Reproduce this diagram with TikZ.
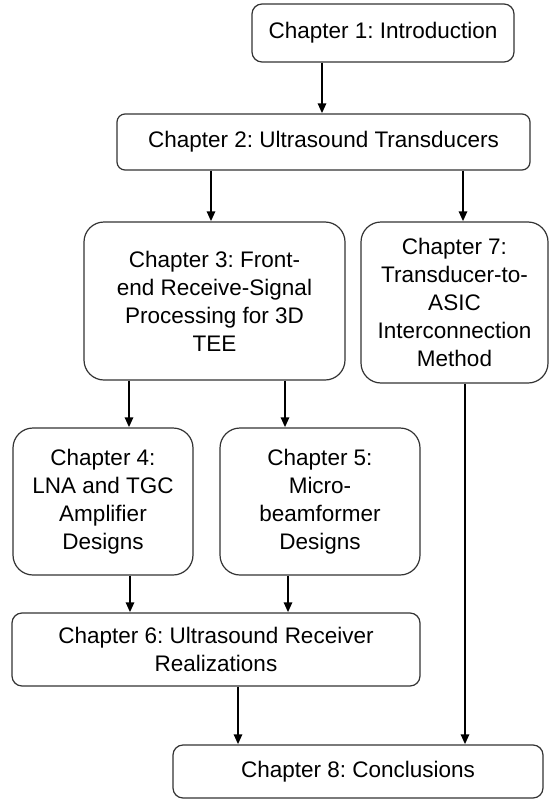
\documentclass[tikz,border=0pt]{standalone}
\usepackage{fontspec}
\setmainfont{Liberation Sans}
\usepackage{tikz}
\usetikzlibrary{arrows.meta}

\frenchspacing
\newcommand{\chfont}{\fontsize{22.5}{28}\selectfont}

\begin{document}
\begin{tikzpicture}[
            > = {Triangle[length=10pt, width=8pt]}, % arrow head style
            x = 1pt, y = -1pt, % one unit is one pixel
            line width = 2.8pt % line style
        ]

        \tikzstyle{chapter}=[
            draw = black!80,
            line width = 1.2pt,
            fill = white,
            align = center,
            inner sep = 0pt,
            font = \chfont
        ]

        \useasboundingbox (0,0) rectangle (550,800);

        \node[chapter, rounded corners=10pt, minimum width=262pt, minimum height=58pt] (c1) at (383,33) {Chapter 1: Introduction};
        \node[chapter, rounded corners=8pt, minimum width=413pt, minimum height=56pt] (c2) at (323.5,142) {Chapter 2: Ultrasound Transducers};
        \node[chapter, rounded corners=20pt, minimum width=261pt, minimum height=158pt] (c3) at (214.5,301) {Chapter 3: Front-\\end Receive-Signal\\Processing for 3D\\TEE};
        \node[chapter, rounded corners=20pt, minimum width=187pt, minimum height=161pt] (c7) at (454.5,302.5) {Chapter 7:\\Transducer-to-\\ASIC\\Interconnection\\Method};
        \node[chapter, rounded corners=20pt, minimum width=180pt, minimum height=147pt] (c4) at (103,501.5) {Chapter 4:\\LNA and TGC\\Amplifier\\Designs};
        \node[chapter, rounded corners=20pt, minimum width=200pt, minimum height=147pt] (c5) at (320,501.5) {Chapter 5:\\Micro-\\beamformer\\Designs};
        \node[chapter, rounded corners=10pt, minimum width=408pt, minimum height=73pt] (c6) at (216,649.5) {Chapter 6: Ultrasound Receiver\\Realizations};
        \node[chapter, rounded corners=10pt, minimum width=370pt, minimum height=53pt] (c8) at (358,771.5) {Chapter 8: Conclusions};

        % x positions of the arrows
        \coordinate (a12) at (322,0);
        \coordinate (a23) at (211,0);
        \coordinate (a27) at (463,0);
        \coordinate (a34) at (129,0);
        \coordinate (a35) at (285,0);
        \coordinate (a46) at (130,0);
        \coordinate (a56) at (288,0);
        \coordinate (a68) at (238,0);
        \coordinate (a78) at (465,0);

        \draw[->] (c1.south -| a12) -- (c2.north -| a12);
        \draw[->] (c2.south -| a23) -- (c3.north -| a23);
        \draw[->] (c2.south -| a27) -- (c7.north -| a27);
        \draw[->] (c3.south -| a34) -- (c4.north -| a34);
        \draw[->] (c3.south -| a35) -- (c5.north -| a35);
        \draw[->] (c4.south -| a46) -- (c6.north -| a46);
        \draw[->] (c5.south -| a56) -- (c6.north -| a56);
        \draw[->] (c6.south -| a68) -- (c8.north -| a68);
        \draw[->] (c7.south -| a78) -- (c8.north -| a78);

  \end{tikzpicture}
\end{document}
